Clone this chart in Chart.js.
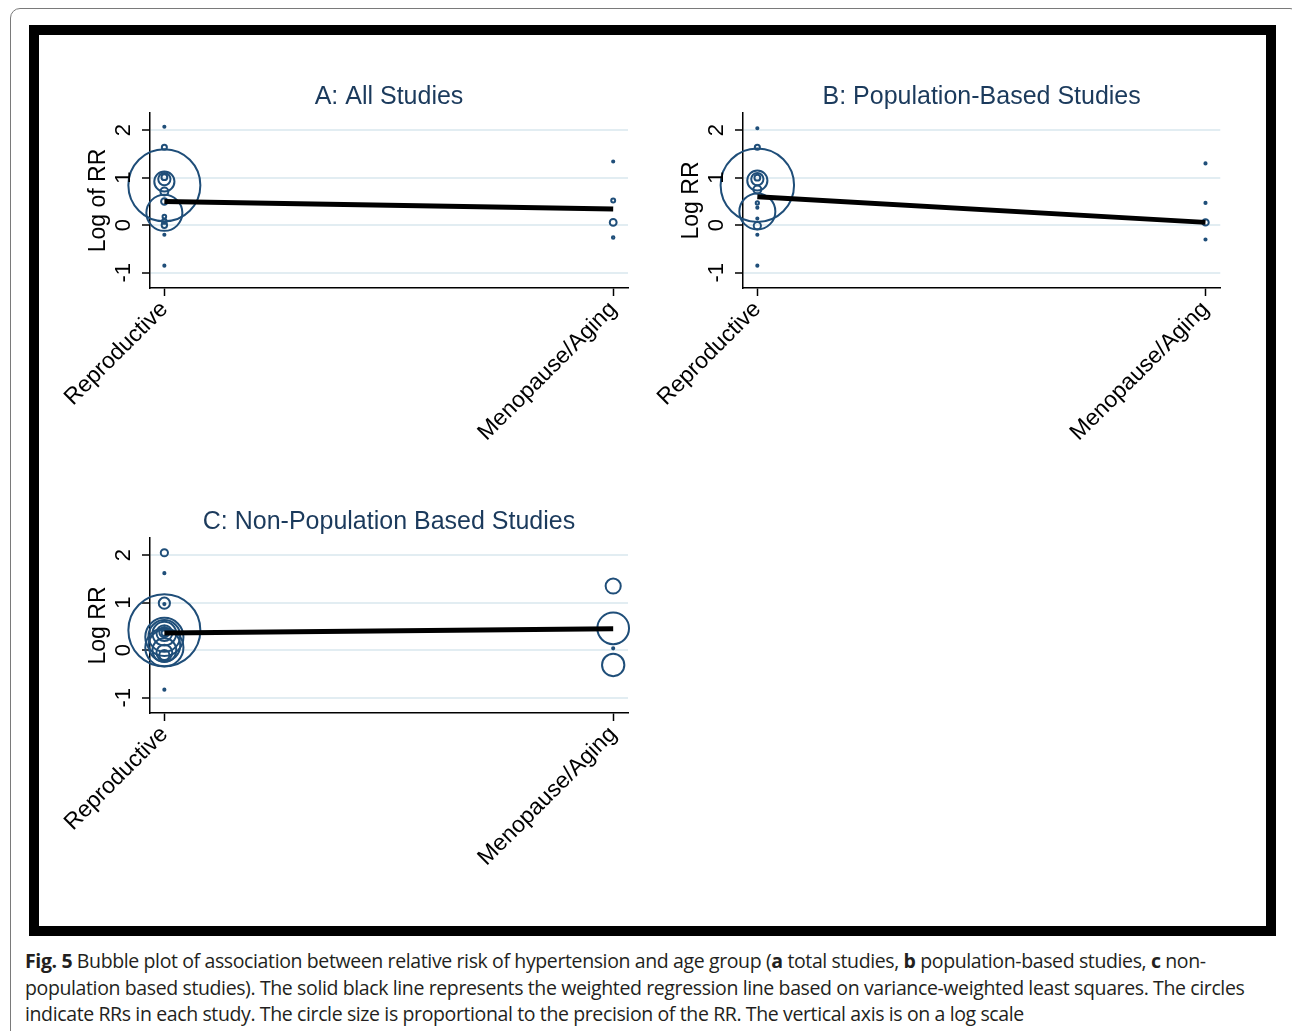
<!DOCTYPE html>
<html>
<head>
<meta charset="utf-8">
<script src="https://cdn.jsdelivr.net/npm/chart.js@4.4.1/dist/chart.umd.min.js"></script>
<style>
  html, body { margin: 0; padding: 0; background: #fff; }
  body { width: 1292px; height: 1031px; position: relative; overflow: hidden; }
  #outer { position: absolute; left: 10px; top: 8px; width: 1290px; height: 1040px; border: 1px solid #7a7a7a; border-radius: 10px; box-sizing: border-box; }
  #frame { position: absolute; left: 29px; top: 25px; width: 1247px; height: 911px; border: 10px solid #000; box-sizing: border-box; background: #fff; }
  canvas.panel { position: absolute; }
  #caption { position: absolute; left: 25px; top: 948px; font-family: "Open Sans", "Noto Sans", sans-serif; font-size: 19.5px; letter-spacing: -0.38px; line-height: 26.5px; color: #231f20; white-space: nowrap; }
  #caption b { font-weight: bold; }
</style>
</head>
<body>
<div id="outer"></div>
<div id="frame"></div>
<canvas id="chartA" class="panel" width="626" height="380" style="left:40px;top:68px;width:626px;height:380px"></canvas>
<canvas id="chartB" class="panel" width="626" height="380" style="left:633px;top:68px;width:626px;height:380px"></canvas>
<canvas id="chartC" class="panel" width="626" height="380" style="left:40px;top:493px;width:626px;height:380px"></canvas>
<div id="caption"><b>Fig. 5</b> Bubble plot of association between relative risk of hypertension and age group (<b>a</b> total studies, <b>b</b> population-based studies, <b>c</b> non-<br>population based studies). The solid black line represents the weighted regression line based on variance-weighted least squares. The circles<br>indicate RRs in each study. The circle size is proportional to the precision of the RR. The vertical axis is on a log scale</div>
<script>
// ---------- data ----------
const categories = ["Reproductive", "Menopause/Aging"];
const xTickValues = [0, 1];
const yTickValues = [-1, 0, 1, 2];
const yTickLabels = ["-1", "0", "1", "2"];
const panelTitles = ["A: All Studies", "B: Population-Based Studies", "C: Non-Population Based Studies"];
const yTitles = ["Log of RR", "Log RR", "Log RR"];

// Panel A: all studies (log RR and relative precision weight)
const aReproLogRR  = [2.07, 1.64, 0.84, 0.92, 0.97, 1.01, 0.71, 0.50, 0.26, 0.18, 0.08, 0.00, -0.20, -0.85];
const aReproWeight = [0.3, 0.7, 10, 2.8, 1.7, 0.8, 1.1, 0.9, 5, 0.5, 0.65, 0.75, 0.3, 0.3];
const aMenoLogRR   = [1.34, 0.52, 0.06, -0.26];
const aMenoWeight  = [0.3, 0.55, 0.95, 0.35];
const aFit         = [0.50, 0.34];

// Panel B: population-based studies
const bReproLogRR  = [2.04, 1.64, 0.84, 0.94, 0.97, 1.00, 0.75, 0.47, 0.37, 0.29, 0.14, -0.01, -0.20, -0.85];
const bReproWeight = [0.3, 0.7, 10.2, 2.8, 1.7, 0.8, 1.1, 0.45, 0.3, 5, 0.3, 1.0, 0.3, 0.3];
const bMenoLogRR   = [1.30, 0.47, 0.06, -0.30];
const bMenoWeight  = [0.3, 0.3, 0.9, 0.3];
const bFit         = [0.60, 0.06];

// Panel C: non-population based studies
const cReproLogRR  = [2.05, 1.62, 0.99, 0.97, 0.42, 0.28, 0.06, 0.30, 0.10, 0.35, 0.00, 0.36, -0.05, 0.38, 0.36, -0.10, -0.83];
const cReproWeight = [1.0, 0.3, 1.55, 0.3, 10, 5.3, 5.3, 4.4, 4.4, 3.3, 3.3, 2.2, 2.2, 1.4, 0.8, 1.4, 0.3];
const cMenoLogRR   = [1.35, 0.46, 0.04, -0.31];
const cMenoWeight  = [2.1, 4.4, 0.3, 3.1];
const cFit         = [0.36, 0.45];

// ---------- styling ----------
const FONT = '"Liberation Sans", Arial, Helvetica, sans-serif';
const BUBBLE_COLOR = '#1f4e79';
const GRID_COLOR = '#e2edf2';
const PX_PER_WEIGHT = 3.6;

const rotatedYTicks = {
  id: 'rotatedYTicks',
  afterDraw(chart) {
    const s = chart.scales.y;
    const ctx = chart.ctx;
    ctx.save();
    ctx.fillStyle = '#000';
    ctx.font = '22px ' + FONT;
    ctx.textAlign = 'center';
    ctx.textBaseline = 'middle';
    yTickValues.forEach((v, i) => {
      const y = s.getPixelForValue(v);
      ctx.save();
      ctx.translate(s.right - 26, y);
      ctx.rotate(-Math.PI / 2);
      ctx.fillText(yTickLabels[i], 0, 0);
      ctx.restore();
    });
    ctx.restore();
  }
};

function bubbles(xVal, ys, ws) {
  return ys.map((y, i) => ({ x: xVal, y: y, r: ws[i] * PX_PER_WEIGHT }));
}

function makePanel(id, title, yTitle, reproY, reproW, menoY, menoW, fit) {
  const ctx = document.getElementById(id).getContext('2d');
  return new Chart(ctx, {
    type: 'bubble',
    data: {
      datasets: [
        {
          type: 'line',
          data: xTickValues.map((x, i) => ({ x: x, y: fit[i] })),
          borderColor: '#000',
          borderWidth: 5,
          pointRadius: 0,
          fill: false,
          order: 0,
          clip: false
        },
        {
          data: bubbles(xTickValues[0], reproY, reproW).concat(bubbles(xTickValues[1], menoY, menoW)),
          backgroundColor: 'rgba(0,0,0,0)',
          borderColor: BUBBLE_COLOR,
          borderWidth: 2,
          hoverRadius: 0,
          order: 1,
          clip: false
        }
      ]
    },
    options: {
      responsive: false,
      animation: false,
      events: [],
      layout: { padding: { left: 0, right: 12, top: 0, bottom: 0 } },
      plugins: {
        legend: { display: false },
        tooltip: { enabled: false },
        title: {
          display: true,
          text: title,
          fullSize: false,
          color: '#1b3a5c',
          font: { family: FONT, size: 25, weight: 'normal' },
          padding: { top: 14, bottom: 1 }
        }
      },
      scales: {
        x: {
          type: 'linear',
          min: -0.032,
          max: 1.033,
          afterBuildTicks: (s) => { s.ticks = xTickValues.map(v => ({ value: v })); },
          afterFit: (s) => { s.height = 160; },
          ticks: {
            color: '#000',
            font: { family: FONT, size: 23 },
            minRotation: 45,
            maxRotation: 45,
            padding: 0,
            autoSkip: false,
            callback: (v) => categories[xTickValues.indexOf(v)]
          },
          grid: { drawOnChartArea: false, drawTicks: true, tickLength: 8, tickColor: '#000', tickWidth: 1.5 },
          border: { color: '#000', width: 1.5 }
        },
        y: {
          type: 'linear',
          min: -1.32,
          max: 2.36,
          afterBuildTicks: (s) => { s.ticks = yTickValues.map(v => ({ value: v })); },
          afterFit: (s) => { s.width = 110; },
          ticks: { display: false },
          grid: { color: GRID_COLOR, lineWidth: 2, drawTicks: true, tickLength: 8, tickColor: '#000', tickWidth: 1.5 },
          border: { color: '#000', width: 1.5 },
          title: {
            display: true,
            text: yTitle,
            color: '#000',
            font: { family: FONT, size: 23 },
            padding: { top: 45, bottom: 0 }
          }
        }
      }
    },
    plugins: [rotatedYTicks]
  });
}

makePanel('chartA', panelTitles[0], yTitles[0], aReproLogRR, aReproWeight, aMenoLogRR, aMenoWeight, aFit);
makePanel('chartB', panelTitles[1], yTitles[1], bReproLogRR, bReproWeight, bMenoLogRR, bMenoWeight, bFit);
makePanel('chartC', panelTitles[2], yTitles[2], cReproLogRR, cReproWeight, cMenoLogRR, cMenoWeight, cFit);
</script>
</body>
</html>
